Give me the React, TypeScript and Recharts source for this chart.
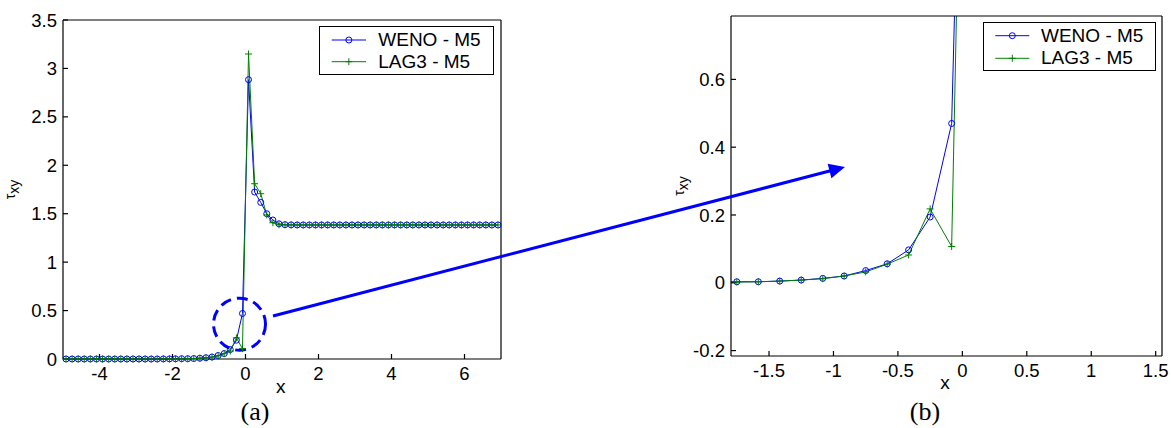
import React from "react";
import { LineChart, Line, XAxis, YAxis, Legend, ReferenceDot } from "recharts";

const FONT = '"Liberation Sans", Arial, Helvetica, sans-serif';
const SERIF = '"Liberation Serif", "Times New Roman", serif';

// cell centres, dx = 1/6
const xs = [
  -4.917, -4.75, -4.583, -4.417, -4.25, -4.083,
  -3.917, -3.75, -3.583, -3.417, -3.25, -3.083,
  -2.917, -2.75, -2.583, -2.417, -2.25, -2.083,
  -1.917, -1.75, -1.583, -1.417, -1.25, -1.083,
  -0.917, -0.75, -0.583, -0.417, -0.25, -0.083,
  0.083, 0.25, 0.417, 0.583, 0.75, 0.917,
  1.083, 1.25, 1.417, 1.583, 1.75, 1.917,
  2.083, 2.25, 2.417, 2.583, 2.75, 2.917,
  3.083, 3.25, 3.417, 3.583, 3.75, 3.917,
  4.083, 4.25, 4.417, 4.583, 4.75, 4.917,
  5.083, 5.25, 5.417, 5.583, 5.75, 5.917,
  6.083, 6.25, 6.417, 6.583, 6.75, 6.917,
];

const weno = [
  0, 0, 0, 0, 0, 0,
  0, 0, 0, 0, 0, 0,
  0, 0, 0, 0, 0.001, 0.001,
  0.002, 0.003, 0.003, 0.005, 0.008, 0.013,
  0.02, 0.036, 0.056, 0.097, 0.194, 0.47,
  2.884, 1.724, 1.617, 1.5, 1.435, 1.396,
  1.387, 1.385, 1.384, 1.384, 1.384, 1.384,
  1.384, 1.384, 1.384, 1.384, 1.384, 1.384,
  1.384, 1.384, 1.384, 1.384, 1.384, 1.384,
  1.384, 1.384, 1.384, 1.384, 1.384, 1.384,
  1.384, 1.384, 1.384, 1.384, 1.384, 1.384,
  1.384, 1.384, 1.384, 1.384, 1.384, 1.384,
];

const lag3 = [
  0, 0, 0, 0, 0, 0,
  0, 0, 0, 0, 0, 0,
  0, 0, 0, 0, 0.001, 0.001,
  0.001, 0.002, 0.003, 0.005, 0.008, 0.012,
  0.02, 0.032, 0.055, 0.082, 0.218, 0.107,
  3.149, 1.81, 1.707, 1.487, 1.407, 1.386,
  1.384, 1.384, 1.384, 1.384, 1.384, 1.384,
  1.384, 1.384, 1.384, 1.384, 1.384, 1.384,
  1.384, 1.384, 1.384, 1.384, 1.384, 1.384,
  1.384, 1.384, 1.384, 1.384, 1.384, 1.384,
  1.384, 1.384, 1.384, 1.384, 1.384, 1.384,
  1.384, 1.384, 1.384, 1.384, 1.384, 1.384,
];

const SERIES = [
  { key: "weno", name: "WENO - M5", color: "#0000ff", marker: "circle" },
  { key: "lag3", name: "LAG3 - M5", color: "#008000", marker: "plus" },
];

const fullX = [-5, 7];
const fullY = [0, 3.5];
const fullXTicks = [-4, -2, 0, 2, 4, 6];
const fullYTicks = [0, 0.5, 1, 1.5, 2, 2.5, 3, 3.5];

// window shown in panel (b)
const zoomX = [-1.795, 1.549];
const zoomY = [-0.216, 0.787];
const zoomXTicks = [-1.5, -1, -0.5, 0, 0.5, 1, 1.5];
const zoomYTicks = [-0.2, 0, 0.2, 0.4, 0.6];

// dashed ring around the region that panel (b) blows up
const ring = { x: -0.164, y: 0.359, r: 26 };

const data = xs.map((x, i) => ({ x, weno: weno[i], lag3: lag3[i] }));

const Plus = ({ cx, cy, stroke }: any) => {
  if (cx == null || cy == null) return null;
  return (
    <path
      d={`M${cx - 3.5},${cy}H${cx + 3.5}M${cx},${cy - 3.5}V${cy + 3.5}`}
      stroke={stroke}
      strokeWidth={1}
      fill="none"
    />
  );
};

function TauLabel({ viewBox, dx }: any) {
  if (!viewBox) return null;
  const x = viewBox.x + dx;
  const y = viewBox.y + viewBox.height / 2;
  return (
    <text
      transform={`translate(${x},${y}) rotate(-90)`}
      textAnchor="middle"
      fontFamily={FONT}
      fontSize={14}
      fill="#000"
    >
      τ<tspan dy={4}>xy</tspan>
    </text>
  );
}

function XName({ viewBox, dx, dy }: any) {
  if (!viewBox) return null;
  return (
    <text
      x={viewBox.x + viewBox.width / 2 + dx}
      y={viewBox.y + dy}
      textAnchor="middle"
      fontFamily={FONT}
      fontSize={19}
      fill="#000"
    >
      x
    </text>
  );
}

function LegendBox({ payload, w, h, rows, lineX, textX }: any) {
  const mx = (lineX[0] + lineX[1]) / 2;
  return (
    <svg width={w} height={h} style={{ display: "block" }}>
      <rect x={0.5} y={0.5} width={w - 1} height={h - 1} fill="#fff" stroke="#000" />
      {SERIES.map((s, i) => {
        const item = (payload || []).find((p: any) => p.dataKey === s.key);
        const color = item?.color ?? s.color;
        const y = rows[i];
        return (
          <g key={s.key}>
            <line x1={lineX[0]} x2={lineX[1]} y1={y} y2={y} stroke={color} />
            {s.marker === "circle" ? (
              <circle cx={mx} cy={y} r={3} fill="none" stroke={color} />
            ) : (
              <Plus cx={mx} cy={y} stroke={color} />
            )}
            <text x={textX} y={y + 6} fontFamily={FONT} fontSize={19} fill="#000">
              {item?.value ?? s.name}
            </text>
          </g>
        );
      })}
    </svg>
  );
}

const axisStroke = { stroke: "#000", strokeWidth: 1.2 };
const tickFont = { fill: "#000", fontSize: 18.5, fontFamily: FONT };

function Panel(p: any) {
  return (
    <div style={{ position: "absolute", left: p.left, top: 0 }}>
      <LineChart width={p.width} height={428} data={data} margin={{ top: 0, right: 0, bottom: 0, left: 0 }}>
        <XAxis
          type="number"
          dataKey="x"
          domain={p.xDomain}
          ticks={p.xTicks}
          allowDataOverflow={p.clip}
          height={p.bottomH}
          tickSize={-5}
          tickMargin={13}
          tick={tickFont}
          axisLine={axisStroke}
          tickLine={axisStroke}
          label={<XName dx={p.xNameDx} dy={p.xNameDy} />}
        />
        <XAxis
          xAxisId="top"
          orientation="top"
          type="number"
          domain={p.xDomain}
          ticks={p.xTicks}
          allowDataOverflow
          height={p.topH}
          tickSize={-5}
          tick={false}
          axisLine={axisStroke}
          tickLine={axisStroke}
        />
        <YAxis
          type="number"
          domain={p.yDomain}
          ticks={p.yTicks}
          allowDataOverflow={p.clip}
          width={p.leftW}
          tickSize={-5}
          tickMargin={11}
          tick={tickFont}
          axisLine={axisStroke}
          tickLine={axisStroke}
          label={<TauLabel dx={p.tauDx} />}
        />
        <YAxis
          yAxisId="right"
          orientation="right"
          type="number"
          domain={p.yDomain}
          ticks={p.yTicks}
          allowDataOverflow
          width={p.rightW}
          tickSize={-5}
          tick={false}
          axisLine={axisStroke}
          tickLine={axisStroke}
        />
        <Line
          dataKey="weno"
          name="WENO - M5"
          type="linear"
          stroke="#0000ff"
          strokeWidth={1}
          dot={{ r: 3, fill: "none", stroke: "#0000ff", strokeWidth: 1 }}
          isAnimationActive={false}
        />
        <Line
          dataKey="lag3"
          name="LAG3 - M5"
          type="linear"
          stroke="#008000"
          strokeWidth={1}
          dot={(d: any) => <Plus key={`p-${d.index}`} cx={d.cx} cy={d.cy} stroke="#008000" />}
          isAnimationActive={false}
        />
        {p.children}
        <Legend
          layout="vertical"
          align="center"
          verticalAlign="middle"
          wrapperStyle={{ left: p.legend.left, top: p.legend.top, width: p.legend.w, height: p.legend.h }}
          content={(lp: any) => <LegendBox payload={lp.payload} {...p.legend} />}
        />
      </LineChart>
    </div>
  );
}

// arrow from the ring in (a) into panel (b)
const arrowFrom = [273, 316];
const arrowTo = [845, 167];

function Arrow() {
  const [x0, y0] = arrowFrom;
  const [x1, y1] = arrowTo;
  const len = Math.hypot(x1 - x0, y1 - y0);
  const ux = (x1 - x0) / len;
  const uy = (y1 - y0) / len;
  const bx = x1 - ux * 16;
  const by = y1 - uy * 16;
  const hw = 7.5;
  const head = `${x1},${y1} ${bx - uy * hw},${by + ux * hw} ${bx + uy * hw},${by - ux * hw}`;
  return (
    <g>
      <line x1={x0} y1={y0} x2={bx + ux * 2} y2={by + uy * 2} stroke="#0000ff" strokeWidth={3} />
      <polygon points={head} fill="#0000ff" />
    </g>
  );
}

export default function App() {
  return (
    <div style={{ position: "absolute", left: 0, top: 0, width: 1171, height: 428, background: "#fff" }}>
      <Panel
        left={0}
        width={520}
        leftW={63}
        rightW={19}
        topH={20}
        bottomH={69}
        xDomain={fullX}
        yDomain={fullY}
        xTicks={fullXTicks}
        yTicks={fullYTicks}
        clip={false}
        tauDx={15}
        xNameDx={-1.3}
        xNameDy={33.5}
        legend={{ left: 319, top: 26, w: 175, h: 49, rows: [14, 35.7], lineX: [12.7, 47], textX: 59.3 }}
      >
        <ReferenceDot
          x={ring.x}
          y={ring.y}
          r={ring.r}
          fill="none"
          stroke="#0000ff"
          strokeWidth={3}
          strokeDasharray="11 6"
        />
      </Panel>
      <Panel
        left={660}
        width={511}
        leftW={71}
        rightW={9}
        topH={16}
        bottomH={72}
        xDomain={zoomX}
        yDomain={zoomY}
        xTicks={zoomXTicks}
        yTicks={zoomYTicks}
        clip={true}
        tauDx={24}
        xNameDx={-1.5}
        xNameDy={33.3}
        legend={{ left: 322.7, top: 22, w: 173, h: 49, rows: [13.7, 36.3], lineX: [12.3, 46.3], textX: 58 }}
      />
      <svg
        width={1171}
        height={428}
        style={{ position: "absolute", left: 0, top: 0, pointerEvents: "none" }}
      >
        <Arrow />
        <text x={255} y={420} textAnchor="middle" fontFamily={SERIF} fontSize={26} fill="#000">
          (a)
        </text>
        <text x={925} y={420} textAnchor="middle" fontFamily={SERIF} fontSize={26} fill="#000">
          (b)
        </text>
      </svg>
    </div>
  );
}
